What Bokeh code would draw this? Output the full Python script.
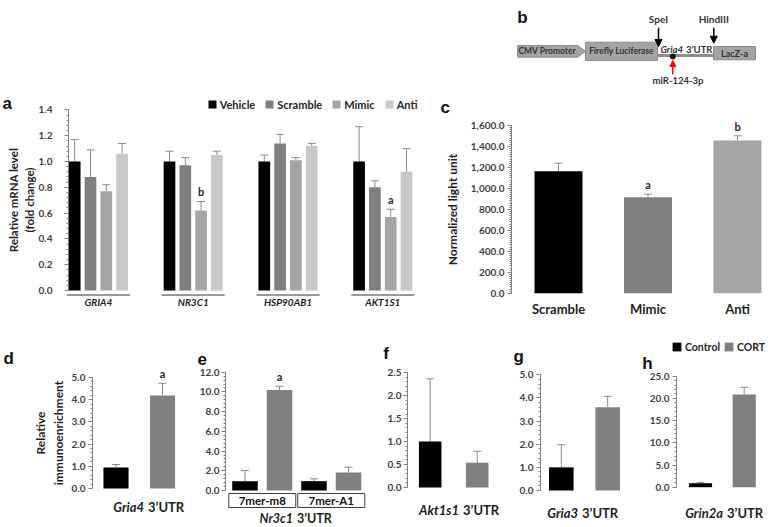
import numpy as np
from bokeh.plotting import figure
from bokeh.models import (Range1d, FixedTicker, NumeralTickFormatter, ColumnDataSource,
                          Whisker, TeeHead, Legend, LegendItem, Arrow, NormalHead, LinearAxis)
from bokeh.embed import file_html
from bokeh.resources import INLINE
from bokeh.core.properties import value

# ---------------- data ----------------
# panel a: relative mRNA level (fold change)
a_genes = ["GRIA4", "NR3C1", "HSP90AB1", "AKT1S1"]
a_series = ["Vehicle", "Scramble", "Mimic", "Anti"]
a_vehicle = [1.00, 1.00, 1.00, 1.00]
a_vehicle_err = [1.17, 1.08, 1.05, 1.27]
a_scramble = [0.88, 0.97, 1.14, 0.80]
a_scramble_err = [1.09, 1.03, 1.21, 0.85]
a_mimic = [0.77, 0.62, 1.01, 0.57]
a_mimic_err = [0.82, 0.69, 1.03, 0.63]
a_anti = [1.06, 1.05, 1.12, 0.92]
a_anti_err = [1.14, 1.08, 1.14, 1.10]
a_mimic_sig = ["", "b", "", "a"]

# panel c: normalized light unit
c_groups = ["Scramble", "Mimic", "Anti"]
c_values = [1164, 916, 1457]
c_err = [1240, 945, 1502]
c_sig = ["", "a", "b"]

# panels d-h: relative immunoenrichment (Control, CORT)
cond = ["Control", "CORT"]
d_values = [0.95, 4.19]
d_err = [1.08, 4.74]
d_sig = ["", "a"]
e_groups = ["7mer-m8", "7mer-A1"]
e_control = [0.95, 0.95]
e_control_err = [2.03, 1.19]
e_cort = [10.2, 1.83]
e_cort_err = [10.58, 2.37]
e_sig = ["a", ""]
f_values = [1.0, 0.54]
f_err = [2.37, 0.79]
g_values = [1.0, 3.6]
g_err = [1.98, 4.07]
h_values = [0.9, 20.9]
h_err = [1.1, 22.5]

# ---------------- style ----------------
FONT = "Lato"
LFONT = "Liberation Sans"
AX = "#808080"
TXT = "#404040"
DARK = "#1e1e1e"
ERR = "#8a8a8a"
a_colors = ["#000000", "#7f7f7f", "#a5a5a5", "#c8c8c8"]
c_colors = ["#000000", "#7f7f7f", "#a5a5a5"]
cond_colors = ["#000000", "#808080"]

W, H = 768, 527


def Y(py):
    return H - py


# panel geometry (pixels): bar-0 centre, bar pitch, zero line, top-tick line, top value
geo = {
    "a": (74.2, 15.8, 290.0, 109.4, 1.4),
    "c": (558.0, 89.5, 292.7, 125.0, 1600),
    "d": (115.5, 46.5, 488.0, 377.0, 5),
    "e": (244.5, 34.5, 490.0, 371.7, 12),
    "f": (429.7, 47.0, 487.0, 372.3, 2.5),
    "g": (560.8, 46.4, 490.0, 374.3, 5),
    "h": (700.0, 43.7, 486.7, 375.7, 25),
}

p = figure(width=W, height=H, x_range=Range1d(0, W), y_range=Range1d(0, H),
           output_backend="svg", toolbar_location=None, min_border=0,
           x_axis_location=None, y_axis_location=None)
p.grid.visible = False
p.outline_line_color = None
p.background_fill_color = "white"
p.border_fill_color = "white"

xr, yr = {}, {}
for nm, (X0, P, Z, V, vmax) in geo.items():
    xr[nm] = Range1d((0 - X0) / P, (W - X0) / P)
    k = vmax / (Z - V)
    yr[nm] = Range1d((Z - H) * k, Z * k)
p.extra_x_ranges = xr
p.extra_y_ranges = yr


def bars(nm, xs, tops, errs, colors, width):
    src = ColumnDataSource(dict(x=xs, top=tops, err=errs, color=colors))
    r = p.vbar(x="x", top="top", bottom=0, width=width, source=src,
               fill_color="color", line_color=None, x_range_name=nm, y_range_name=nm)
    p.add_layout(Whisker(source=src, base="x", lower="top", upper="err",
                         line_color=ERR, line_width=1, lower_head=None,
                         upper_head=TeeHead(size=8, line_color=ERR, line_width=1),
                         x_range_name=nm, y_range_name=nm))
    return r


def sig(nm, xs, ys, texts, size="11px"):
    keep = [(x, y, t) for x, y, t in zip(xs, ys, texts) if t]
    if keep:
        p.text(x=[q[0] for q in keep], y=[q[1] for q in keep], text=[q[2] for q in keep],
               text_align="center", text_baseline="bottom", y_offset=-3,
               text_font=value(FONT), text_font_style="bold", text_font_size=size,
               text_color="#262626", x_range_name=nm, y_range_name=nm)


def yaxis(nm, xpx, vmax, step, minor_step, fmt, standoff=3, size="10px",
          label=None, lsize="12px", lstandoff=5):
    ticks = [round(v, 6) for v in np.arange(0, vmax + 1e-9, step)]
    minor = [round(v, 6) for v in np.arange(0, vmax + 1e-9, minor_step)]
    ax = LinearAxis(y_range_name=nm, fixed_location=xpx, bounds=(0, vmax),
                    ticker=FixedTicker(ticks=ticks, minor_ticks=minor),
                    formatter=NumeralTickFormatter(format=fmt))
    ax.axis_line_color = AX
    ax.major_tick_line_color = AX
    ax.minor_tick_line_color = AX
    ax.major_tick_out = 4
    ax.major_tick_in = 0
    ax.minor_tick_out = 2
    ax.minor_tick_in = 0
    ax.major_label_text_font = FONT
    ax.major_label_text_font_style = "bold"
    ax.major_label_text_font_size = size
    ax.major_label_text_color = TXT
    ax.major_label_standoff = standoff
    if label:
        ax.axis_label = label
        ax.axis_label_text_font = FONT
        ax.axis_label_text_font_style = "bold"
        ax.axis_label_text_font_size = lsize
        ax.axis_label_text_color = DARK
        ax.axis_label_standoff = lstandoff
    p.add_layout(ax, "left")


def xcat(nm, ypx, ticks, labels, size, style, standoff):
    ax = LinearAxis(x_range_name=nm, fixed_location=Y(ypx), ticker=FixedTicker(ticks=ticks),
                    major_label_overrides={t: l for t, l in zip(ticks, labels)})
    ax.axis_line_color = None
    ax.major_tick_line_color = None
    ax.minor_tick_line_color = None
    ax.major_label_text_font = FONT
    ax.major_label_text_font_style = style
    ax.major_label_text_font_size = size
    ax.major_label_text_color = DARK
    ax.major_label_standoff = standoff
    p.add_layout(ax, "below")


def txt(x, y, t, size, style="bold", align="left", baseline="alphabetic",
        color=DARK, font=FONT):
    p.text(x=[x], y=[Y(y)], text=[t], text_font=value(font), text_font_style=style,
           text_font_size=size, text_align=align, text_baseline=baseline, text_color=color)


def letter(x, y, t):
    txt(x, y, t, "17px", align="left", baseline="alphabetic", color="#111111", font=LFONT)


def utr(x, y, gene, size="13px"):
    txt(x - 2, y, gene, size, style="bold italic", align="right", baseline="middle")
    txt(x + 2, y, "3\u2019UTR", size, style="bold", align="left", baseline="middle")


# ---------------- panel a ----------------
STEP = 6
a_vals = [a_vehicle, a_scramble, a_mimic, a_anti]
a_errs = [a_vehicle_err, a_scramble_err, a_mimic_err, a_anti_err]
items = []
for si, name in enumerate(a_series):
    xs = [g * STEP + si for g in range(len(a_genes))]
    r = bars("a", xs, a_vals[si], a_errs[si], [a_colors[si]] * len(xs), 0.74)
    items.append(LegendItem(label=name, renderers=[r]))
p.segment(x0=[g * STEP - 0.5 for g in range(len(a_genes))], y0=-0.035,
          x1=[g * STEP + 3.5 for g in range(len(a_genes))], y1=-0.035,
          line_color="#9a9a9a", line_width=2, x_range_name="a", y_range_name="a")
sig("a", [g * STEP + 2 for g in range(len(a_genes))], a_mimic_err, a_mimic_sig)
yaxis("a", 68, 1.4, 0.2, 0.04, "0.0", standoff=12,
      label="Relative mRNA level\n(fold change)", lsize="11.5px", lstandoff=0)
xcat("a", 286, [g * STEP + 1.5 for g in range(len(a_genes))], a_genes, "10px", "bold italic", 3)
p.add_layout(Legend(items=items, location=(206.7, Y(110.5)), orientation="horizontal",
                    glyph_width=10, glyph_height=10, label_height=10, label_standoff=3,
                    spacing=9, padding=0, margin=0, border_line_color=None,
                    background_fill_alpha=0, label_text_font=FONT,
                    label_text_font_style="bold", label_text_font_size="11px",
                    label_text_color="#262626"))
letter(2, 103.3, "a")

# ---------------- panel b (construct diagram, pixel coordinates) ----------------
p.patch(x=[517, 577, 585, 577, 517], y=[Y(45), Y(45), Y(50.8), Y(56.7), Y(56.7)],
        fill_color="#a3a3a3", line_color="#8c8c8c")
p.quad(left=[585, 713], right=[657, 755], top=[Y(41.7), Y(46)], bottom=[Y(60), Y(59.3)],
       fill_color="#a3a3a3", line_color="#8c8c8c")
p.segment(x0=[657], y0=[Y(55)], x1=[713], y1=[Y(55)], line_color="#8c8c8c", line_width=3)
txt(546.7, 50.8, "CMV Promoter", "8.5px", align="center", baseline="middle", color="#333333")
txt(621, 50.8, "Firefly Luciferase", "8.5px", align="center", baseline="middle", color="#333333")
txt(734, 52.5, "LacZ-a", "9px", align="center", baseline="middle", color="#333333")
txt(682.5, 49, "Gria4", "9.5px", style="bold italic", align="right", baseline="middle", color="#333333")
txt(685.5, 49, "3\u2019UTR", "9.5px", align="left", baseline="middle", color="#333333")
txt(658, 18, "SpeI", "10px", align="center", baseline="middle", color="#333333")
txt(713.3, 18, "HindIII", "10px", align="center", baseline="middle", color="#333333")
txt(677.5, 80, "miR-124-3p", "9.5px", align="center", baseline="middle", color="#333333")
p.add_layout(Arrow(end=NormalHead(size=7, fill_color="black", line_color="black"),
                   x_start=658, y_start=Y(27.3), x_end=658, y_end=Y(46),
                   line_color="black", line_width=1.5))
p.add_layout(Arrow(end=NormalHead(size=7, fill_color="black", line_color="black"),
                   x_start=713.3, y_start=Y(27.3), x_end=713.3, y_end=Y(42.7),
                   line_color="black", line_width=1.5))
p.add_layout(Arrow(end=NormalHead(size=6, fill_color="red", line_color="red"),
                   x_start=672.3, y_start=Y(74), x_end=672.3, y_end=Y(60),
                   line_color="red", line_width=1.5))
p.scatter(x=[672.3], y=[Y(56)], size=5, color="#111111")
letter(516.7, 16.7, "b")

# ---------------- panel c ----------------
cx = list(range(len(c_groups)))
bars("c", cx, c_values, c_err, c_colors, 0.536)
sig("c", cx, c_err, c_sig)
yaxis("c", 511, 1600, 200, 20, "0,0.0", standoff=3,
      label="Normalized light unit", lsize="12px", lstandoff=8)
xcat("c", 285, cx, c_groups, "13px", "bold", 9)
letter(440, 106.7, "c")

# ---------------- panel d ----------------
bars("d", [0, 1], d_values, d_err, cond_colors, 0.54)
sig("d", [0, 1], d_err, d_sig)
yaxis("d", 92, 5, 1, 0.2, "0.0", label="Relative\nimmunoenrichment", lsize="12px", lstandoff=3)
letter(3, 358, "d")
utr(145.5, 506, "Gria4")

# ---------------- panel e ----------------
ex_c = [gi * 2 for gi in range(len(e_groups))]
ex_t = [gi * 2 + 1 for gi in range(len(e_groups))]
bars("e", ex_c, e_control, e_control_err, [cond_colors[0]] * len(ex_c), 0.74)
bars("e", ex_t, e_cort, e_cort_err, [cond_colors[1]] * len(ex_t), 0.74)
sig("e", ex_t, e_cort_err, e_sig)
yaxis("e", 225, 12, 2, 0.4, "0.0", standoff=2)
e_mid = [gi * 2 + 0.5 for gi in range(len(e_groups))]
p.rect(x=e_mid, y=Y(500), width=67 / 34.5, height=14, fill_color="white",
       line_color="#404040", line_width=1, x_range_name="e")
p.text(x=e_mid, y=Y(500), text=e_groups, text_align="center", text_baseline="middle",
       text_font=value(FONT), text_font_style="bold", text_font_size="11.5px",
       text_color="#111111", x_range_name="e")
letter(197, 358, "e")
utr(294.5, 517.5, "Nr3c1", size="12.5px")

# ---------------- panel f ----------------
bars("f", [0, 1], f_values, f_err, cond_colors, 0.48)
yaxis("f", 407, 2.5, 0.5, 0.1, "0.0", standoff=2)
letter(382.7, 353.3, "f")
utr(460.5, 509, "Akt1s1")

# ---------------- panel g ----------------
bars("g", [0, 1], g_values, g_err, cond_colors, 0.53)
yaxis("g", 540, 5, 1, 0.2, "0.0")
letter(513, 356, "g")
utr(579.5, 512.5, "Gria3")

# ---------------- panel h ----------------
rh = bars("h", [0, 1], h_values, h_err, cond_colors, 0.53)
yaxis("h", 676, 25, 5, 1, "0.0")
letter(641.7, 363.3, "h")
utr(724.5, 512, "Grin2a")
p.add_layout(Legend(items=[LegendItem(label=n, renderers=[rh], index=i) for i, n in enumerate(cond)],
                    location=(671, Y(352.5)), orientation="horizontal",
                    glyph_width=11, glyph_height=11, label_height=11, label_standoff=3,
                    spacing=3, padding=0, margin=0, border_line_color=None,
                    background_fill_alpha=0, label_text_font=FONT,
                    label_text_font_style="bold", label_text_font_size="10.5px",
                    label_text_color="#262626"))

open("out.html", "w").write(file_html(p, INLINE))
